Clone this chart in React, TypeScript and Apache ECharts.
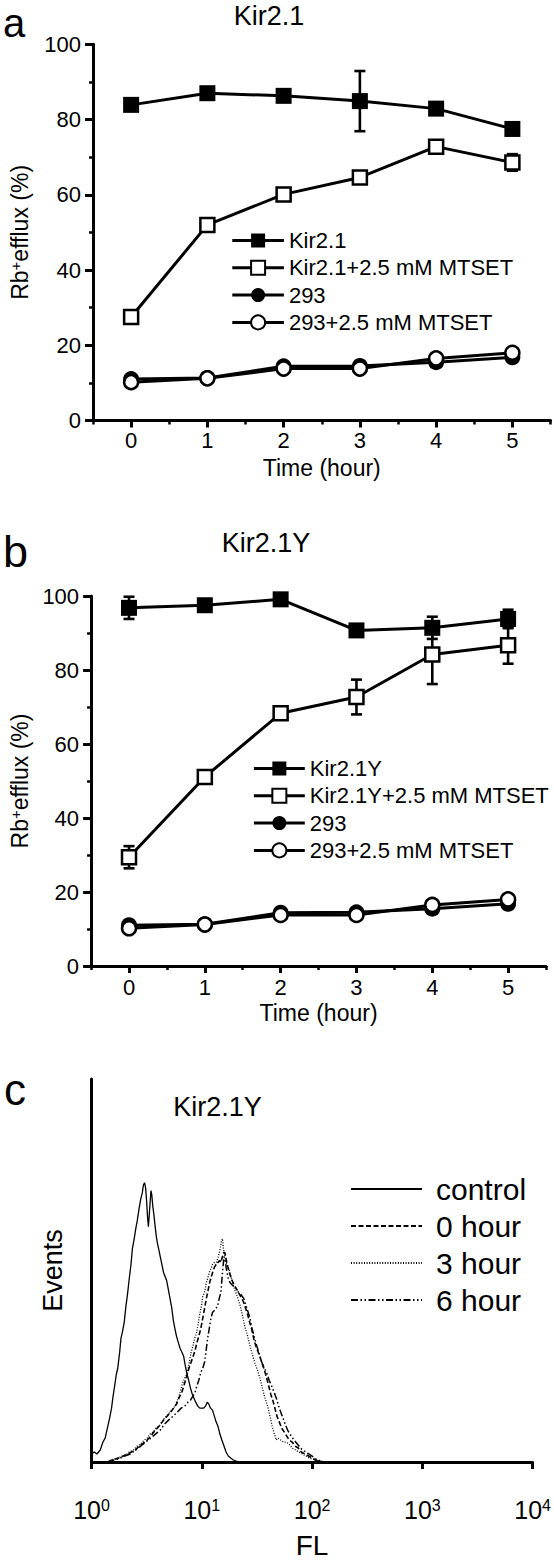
import React, { useEffect, useRef } from 'react';
import * as echarts from 'echarts';

const FONT = '"Liberation Sans", Arial, Helvetica, sans-serif';

// ---- Panels a & b: Rb+ efflux vs time ----
const hours = [0, 1, 2, 3, 4, 5];
const hourTicks = [0, 1, 2, 3, 4, 5];
const effluxTicks = [0, 20, 40, 60, 80, 100];

const kir21 = [83.9, 87.0, 86.3, 84.9, 82.9, 77.5];
const kir21Err = [0, 0, 0, 8, 0, 0];
const kir21Mtset = [27.5, 52.0, 60.1, 64.6, 72.8, 68.6];
const kir21MtsetErr = [0.6, 0.6, 1.0, 0.6, 0.6, 2.2];

const kir21Y = [96.8, 97.5, 99.1, 90.7, 91.4, 93.8];
const kir21YErr = [3, 0, 0, 0, 3, 2.5];
const kir21YMtset = [29.4, 51.1, 68.3, 72.7, 84.2, 86.7];
const kir21YMtsetErr = [3, 1, 1.5, 4.7, 8, 5];

const hek293 = [11.0, 11.3, 14.4, 14.5, 15.5, 16.8];
const hek293Mtset = [10.2, 11.2, 13.8, 13.8, 16.5, 18.0];

// ---- Panel c: flow cytometry histograms [FL, events] ----
const flDecades = [1, 10, 100, 1000, 10000];
const control = [[1.0,4],[1.06,5],[1.12,4],[1.2,6],[1.27,10],[1.33,12],[1.38,16],[1.46,22],[1.52,27],[1.56,32],[1.62,38],[1.68,44],[1.73,47],[1.8,55],[1.85,62],[1.92,66],[1.98,70],[2.05,78],[2.12,84],[2.2,92],[2.28,99],[2.35,107],[2.44,112],[2.52,117],[2.6,121],[2.7,127],[2.8,132],[2.89,135],[2.96,139],[3.03,140],[3.1,137],[3.16,131],[3.22,123],[3.28,118],[3.34,124],[3.4,130],[3.46,136],[3.52,134],[3.6,128],[3.68,124],[3.76,119],[3.85,114],[3.95,110],[4.06,107],[4.2,103],[4.35,99],[4.5,95],[4.65,93],[4.8,91],[4.99,86],[5.15,82],[5.35,77],[5.52,71],[5.7,67],[5.9,63],[6.12,60],[6.35,57],[6.6,55],[6.85,53],[7.1,48],[7.35,44],[7.6,41],[7.9,37],[8.2,34],[8.5,32],[8.8,30],[9.2,28],[9.6,27],[10.0,27],[10.4,27],[10.8,28],[11.2,30],[11.6,29],[12.0,27],[12.5,26],[13.0,23],[13.5,20],[14.0,18],[14.6,14],[15.2,11],[15.9,8],[16.6,5],[17.4,3],[18.3,2],[19.3,1],[20.5,0.5],[22,0]];
const hour0 = [[1.4,0],[1.5,0.8],[1.65,1.5],[1.8,2.2],[1.95,3],[2.1,3.8],[2.3,5],[2.5,6],[2.7,8],[2.95,9.5],[3.2,11],[3.45,13],[3.8,16],[4.1,18],[4.5,21],[4.85,23],[5.2,25],[5.55,27],[5.9,29],[6.2,32],[6.6,35],[6.95,39],[7.3,43],[7.65,47],[8.0,50],[8.35,53],[8.7,56],[9.05,60],[9.4,63],[9.8,67],[10.2,72],[10.6,77],[11.0,82],[11.4,86],[11.8,90],[12.2,93],[12.7,96],[13.1,98],[13.6,99],[14.0,100],[14.5,101],[14.9,100],[15.4,103],[15.8,105],[16.2,105],[16.7,101],[17.2,98],[17.8,95],[18.5,92],[19.2,90],[20,88],[21,86],[22,84],[23,82],[24,80],[25,77],[26,74],[27.2,70],[28.5,66],[29.8,61],[31,58],[32.5,55],[34,52],[35.5,49],[37,46],[38.8,42],[40.5,38],[42.2,34],[44,31],[46,27],[48,23],[50.5,20],[53,17],[56,15],[59,13],[62,11],[66,10],[70,8],[75,7],[80,5],[86,4],[93,3],[100,2],[107,1],[115,0.5],[130,0]];
const hour3 = [[1.4,0],[1.5,1],[1.6,1.5],[1.75,2],[1.9,3],[2.05,3.5],[2.2,5],[2.4,6],[2.6,8],[2.8,9],[3.0,11],[3.2,12],[3.4,14],[3.6,15],[3.85,17],[4.1,18],[4.35,20],[4.6,22],[5.0,24],[5.35,26],[5.72,28],[6.0,31],[6.3,34],[6.65,39],[7.0,42],[7.3,44],[7.6,48],[8.0,55],[8.3,58],[8.6,62],[8.9,64],[9.2,68],[9.5,73],[9.9,78],[10.2,83],[10.6,85],[11.0,90],[11.3,92],[11.7,95],[12.1,97],[12.5,99],[13.0,100],[13.4,99],[13.9,102],[14.3,104],[14.7,107],[15.1,111],[15.4,112],[15.7,107],[16.1,104],[16.6,100],[17.2,98],[17.8,96],[18.4,93],[19.2,89],[20,86],[21,83],[22.4,78],[23.5,73],[24.5,68],[25.8,64],[27.4,58],[29,53],[30.5,49],[32,46],[33.7,42],[35.5,37],[37,33],[38.5,30],[40,27],[41.5,23],[43.5,18],[45.5,14],[47.4,11],[49,12],[52,11],[55,10],[58,10],[62,9],[66,7],[71,6],[76,5],[82,4],[88,3],[94,2],[100,1.5],[110,1],[123,0]];
const hour6 = [[1.4,0],[1.55,0.8],[1.75,1.5],[2.0,3],[2.25,4],[2.5,6],[2.8,8],[3.1,10],[3.45,12],[3.8,14],[4.2,16],[4.6,19],[5.0,21],[5.5,23],[6.0,25],[6.5,27],[7.0,28],[7.5,30],[7.9,31],[8.3,33],[8.7,35],[9.0,38],[9.4,41],[9.8,45],[10.2,47],[10.6,50],[10.95,56],[11.3,62],[11.7,67],[12.1,72],[12.5,75],[13.0,76],[13.4,77],[13.9,78],[14.4,82],[14.9,85],[15.4,95],[15.9,103],[16.3,101],[16.8,96],[17.4,92],[18.0,90],[18.7,89],[19.5,88],[20.5,87],[21.5,85],[22.6,84],[24,82],[25,79],[26,76],[27.4,72],[28.5,67],[29.5,64],[30.5,61],[31.6,58],[33.3,54],[35,50],[36.8,47],[38.6,45],[40.8,41],[43,38],[45.2,35],[47.4,32],[50.5,27],[54.4,22],[57,19],[60,16],[63,14],[66.6,12],[71,10],[76,8],[82,6],[87.8,5],[94,4],[100,3],[108,1.5],[116,0.8],[125,0]];

const pair = (vals: number[]) => hours.map((h, i) => [h, vals[i]]);
const errData = (vals: number[], errs: number[]) =>
  hours.map((h, i) => [h, vals[i] - errs[i], vals[i] + errs[i]]).filter((_, i) => errs[i] > 0);

function errorSeries(data: number[][], xi: number, yi: number) {
  return {
    type: 'custom', xAxisIndex: xi, yAxisIndex: yi, z: 2, silent: true,
    encode: { x: 0, y: [1, 2] },
    data,
    renderItem: (_p: any, api: any) => {
      const x = api.value(0);
      const lo = api.coord([x, api.value(1)]);
      const hi = api.coord([x, api.value(2)]);
      const hw = 5.5;
      const st = { stroke: '#000', lineWidth: 2.6 };
      return {
        type: 'group',
        children: [
          { type: 'line', shape: { x1: lo[0], y1: lo[1], x2: hi[0], y2: hi[1] }, style: st },
          { type: 'line', shape: { x1: lo[0] - hw, y1: lo[1], x2: lo[0] + hw, y2: lo[1] }, style: st },
          { type: 'line', shape: { x1: hi[0] - hw, y1: hi[1], x2: hi[0] + hw, y2: hi[1] }, style: st },
        ],
      };
    },
  };
}

const filledSq = { symbol: 'rect', symbolSize: 16, itemStyle: { color: '#000' } };
const openSq = { symbol: 'rect', symbolSize: 14, itemStyle: { color: '#fff', borderColor: '#000', borderWidth: 2.5 } };
const filledCi = { symbol: 'circle', symbolSize: 16, itemStyle: { color: '#000' } };
const openCi = { symbol: 'circle', symbolSize: 14, itemStyle: { color: '#fff', borderColor: '#000', borderWidth: 2.5 } };

function lineSeries(name: string, vals: number[], style: any, xi: number, yi: number) {
  return {
    type: 'line', name, xAxisIndex: xi, yAxisIndex: yi, z: 3,
    data: pair(vals), ...style,
    lineStyle: { color: '#000', width: 3 },
    emphasis: { disabled: true },
  };
}

const txt = { color: '#000', fontFamily: FONT };

function timeXAxes(gridIndex: number, labelMargin: number, nameGap: number) {
  return [
    {
      type: 'value', gridIndex, min: -0.5, max: 5.5, position: 'bottom',
      axisLine: { show: true, onZero: false, lineStyle: { color: '#000', width: 3 } },
      axisTick: { show: true, length: 7, customValues: hourTicks, lineStyle: { color: '#000', width: 3 } },
      axisLabel: { show: true, customValues: hourTicks, fontSize: 22, margin: labelMargin, ...txt },
      splitLine: { show: false },
      name: 'Time (hour)', nameLocation: 'middle', nameGap,
      nameTextStyle: { fontSize: 23, ...txt },
    },
    {
      type: 'value', gridIndex, min: -0.5, max: 5.5, interval: 0.5, position: 'bottom',
      axisLine: { show: false },
      axisTick: { show: true, length: 4, lineStyle: { color: '#000', width: 2.5 } },
      axisLabel: { show: false },
      splitLine: { show: false },
    },
  ];
}

function effluxYAxis(gridIndex: number, nameGap: number) {
  return {
    type: 'value', gridIndex, min: 0, max: 100, interval: 20,
    axisLine: { show: true, onZero: false, lineStyle: { color: '#000', width: 3 } },
    axisTick: { show: true, length: 8, customValues: effluxTicks, lineStyle: { color: '#000', width: 3 } },
    minorTick: { show: true, splitNumber: 2, length: 4, lineStyle: { color: '#000', width: 2.5 } },
    axisLabel: { fontSize: 22, margin: 12, ...txt },
    splitLine: { show: false },
    minorSplitLine: { show: false },
    name: '{n|Rb}{s|+}{n|efflux (%)}', nameLocation: 'middle', nameGap, nameRotate: 90,
    nameTextStyle: {
      ...txt, fontSize: 23,
      rich: {
        n: { fontSize: 23, fontFamily: FONT, color: '#000', lineHeight: 24 },
        s: { fontSize: 15, fontFamily: FONT, color: '#000', verticalAlign: 'top', lineHeight: 15 },
      },
    },
  };
}

function effluxLegend(names: string[], left: number, top: number, itemWidth: number) {
  return {
    data: names, orient: 'vertical', left, top, itemWidth, itemHeight: 17.5, itemGap: 5.3,
    selectedMode: false,
    textStyle: { fontSize: 22, lineHeight: 22, ...txt },
    lineStyle: { width: 3 },
  };
}

function gtext(text: string, x: number, y: number, fontSize: number, align = 'left') {
  return {
    type: 'text', x, y, silent: true,
    style: {
      text, fontSize, fontFamily: FONT, fill: '#000',
      align, textAlign: align, verticalAlign: 'middle', textVerticalAlign: 'middle',
    },
  };
}

export default function App() {
  const ref = useRef<HTMLDivElement>(null);
  useEffect(() => {
    if (!ref.current) return;
    const chart = echarts.init(ref.current, undefined, { renderer: 'svg' });
    const option: any = {
      animation: false,
      backgroundColor: '#fff',
      textStyle: { fontFamily: FONT, color: '#000' },
      grid: [
        { left: 93, top: 44.3, width: 457.5, height: 376.2 },
        { left: 89, top: 596, width: 457, height: 370 },
        { left: 91.5, top: 1079, width: 450, height: 384 },
      ],
      xAxis: [
        ...timeXAxes(0, 9, 36),
        ...timeXAxes(1, 10, 35),
        {
          type: 'log', gridIndex: 2, min: 1, max: 10000, logBase: 10, position: 'bottom',
          axisLine: { show: true, onZero: false, lineStyle: { color: '#000', width: 3 } },
          axisTick: { show: true, length: 7, customValues: flDecades, lineStyle: { color: '#000', width: 3 } },
          minorTick: { show: false },
          axisLabel: {
            customValues: flDecades,
            margin: 35,
            formatter: (v: number) => '{b|10}{s|' + Math.round(Math.log10(v)) + '}',
            rich: {
              b: { fontSize: 25, fontFamily: FONT, color: '#000', lineHeight: 26 },
              s: { fontSize: 16, fontFamily: FONT, color: '#000', verticalAlign: 'top', lineHeight: 16 },
            },
          },
          splitLine: { show: false },
          name: 'FL', nameLocation: 'middle', nameGap: 69,
          nameTextStyle: { fontSize: 28, ...txt },
        },
      ],
      yAxis: [
        effluxYAxis(0, 61),
        effluxYAxis(1, 59),
        {
          type: 'value', gridIndex: 2, min: 0, max: 192,
          axisLine: { show: true, onZero: false, lineStyle: { color: '#000', width: 3 } },
          axisTick: { show: false },
          axisLabel: { show: false },
          splitLine: { show: false },
          name: 'Events', nameLocation: 'middle', nameGap: 25, nameRotate: 90,
          nameTextStyle: { fontSize: 27, ...txt },
        },
      ],
      legend: [
        effluxLegend(['Kir2.1', 'Kir2.1+2.5 mM MTSET', '293', '293+2.5 mM MTSET'], 225.8, 224.5, 51.6),
        effluxLegend(['Kir2.1Y', 'Kir2.1Y+2.5 mM MTSET', '293', '293+2.5 mM MTSET'], 247.4, 752.5, 50.9),
        {
          data: ['control', '0 hour', '3 hour', '6 hour'], orient: 'vertical', left: 345, top: 1169,
          itemWidth: 71, itemHeight: 14, itemGap: 7, selectedMode: false,
          itemStyle: { opacity: 0, color: 'rgba(0,0,0,0)', borderWidth: 0 },
          lineStyle: { width: 2 },
          textStyle: { fontSize: 30, lineHeight: 30, padding: [0, 0, 0, 9], ...txt },
        },
      ],
      graphic: [
        gtext('a', 3, 22.5, 40),
        gtext('b', 3, 551, 45),
        gtext('c', 4, 1089.5, 44),
        gtext('Kir2.1', 269, 15.5, 27, 'center'),
        gtext('Kir2.1Y', 266, 543.3, 27, 'center'),
        gtext('Kir2.1Y', 217.5, 1107.3, 27, 'center'),
      ],
      series: [
        // panel a
        errorSeries(errData(kir21, kir21Err), 0, 0),
        errorSeries(errData(kir21Mtset, kir21MtsetErr), 0, 0),
        lineSeries('Kir2.1', kir21, filledSq, 0, 0),
        lineSeries('Kir2.1+2.5 mM MTSET', kir21Mtset, openSq, 0, 0),
        lineSeries('293', hek293, filledCi, 0, 0),
        lineSeries('293+2.5 mM MTSET', hek293Mtset, openCi, 0, 0),
        // panel b
        errorSeries(errData(kir21Y, kir21YErr), 2, 1),
        errorSeries(errData(kir21YMtset, kir21YMtsetErr), 2, 1),
        lineSeries('Kir2.1Y', kir21Y, filledSq, 2, 1),
        lineSeries('Kir2.1Y+2.5 mM MTSET', kir21YMtset, openSq, 2, 1),
        lineSeries('293', hek293, filledCi, 2, 1),
        lineSeries('293+2.5 mM MTSET', hek293Mtset, openCi, 2, 1),
        // panel c
        { type: 'line', name: 'control', xAxisIndex: 4, yAxisIndex: 2, data: control, symbol: 'none',
          lineStyle: { color: '#000', width: 1.3, type: 'solid' }, emphasis: { disabled: true } },
        { type: 'line', name: '0 hour', xAxisIndex: 4, yAxisIndex: 2, data: hour0, symbol: 'none',
          lineStyle: { color: '#000', width: 1.6, type: [5, 2.5] }, emphasis: { disabled: true } },
        { type: 'line', name: '3 hour', xAxisIndex: 4, yAxisIndex: 2, data: hour3, symbol: 'none',
          lineStyle: { color: '#000', width: 1.3, type: [1, 1.6] }, emphasis: { disabled: true } },
        { type: 'line', name: '6 hour', xAxisIndex: 4, yAxisIndex: 2, data: hour6, symbol: 'none',
          lineStyle: { color: '#000', width: 1.5, type: [7, 2.5, 1.5, 2.5, 1.5, 2.5] }, emphasis: { disabled: true } },
      ],
    };
    chart.setOption(option);
    return () => chart.dispose();
  }, []);
  return (
    <div
      ref={ref}
      style={{ position: 'absolute', left: 0, top: 0, width: 554, height: 1560, background: '#fff' }}
    />
  );
}
